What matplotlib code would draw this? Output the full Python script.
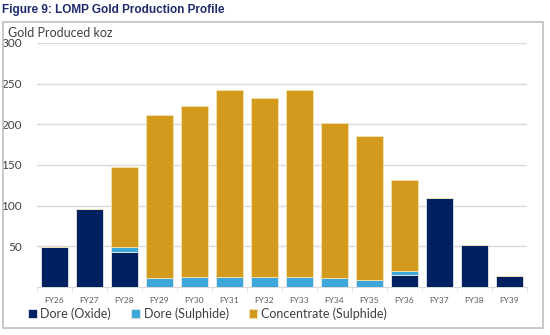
import numpy as np
import matplotlib.pyplot as plt
from matplotlib.patches import Rectangle

years = ["FY26", "FY27", "FY28", "FY29", "FY30", "FY31", "FY32",
         "FY33", "FY34", "FY35", "FY36", "FY37", "FY38", "FY39"]
dore_oxide = [49, 96, 43, 0, 0, 0, 0, 0, 0, 0, 15, 109, 52, 14]
dore_sulphide = [0, 0, 6, 11, 12, 12, 13, 13, 11, 9, 5, 0, 0, 0]
concentrate = [0, 0, 99, 200, 211, 230, 219, 229, 190, 177, 111, 0, 0, 0]
yticks = [50, 100, 150, 200, 250, 300]

navy = "#002060"
blue = "#3DA6DA"
gold = "#D29B1D"

plt.rcParams['font.family'] = ['Lato', 'DejaVu Sans']

fig = plt.figure(figsize=(5.5, 3.35), dpi=100)
ax = fig.add_axes([0.067, 0.143, 0.891, 0.729])

x = np.arange(len(years))
ox = np.array(dore_oxide)
su = np.array(dore_sulphide)
co = np.array(concentrate)
w = 0.77
b1 = ax.bar(x, ox, w, color=navy, edgecolor="#e8e8e8", linewidth=0.6, label="Dore (Oxide)", zorder=3)
b2 = ax.bar(x, su, w, bottom=ox, color=blue, edgecolor="#e8e8e8", linewidth=0.6, label="Dore (Sulphide)", zorder=3)
b3 = ax.bar(x, co, w, bottom=ox + su, color=gold, edgecolor="#f3e3b0", linewidth=0.6, label="Concentrate (Sulphide)", zorder=3)

ax.set_xlim(-0.5, len(years) - 0.5)
ax.set_ylim(0, 300)
ax.set_yticks(yticks)
ax.set_yticklabels([str(v) for v in yticks], fontsize=8.5, color="#404040")
ax.tick_params(axis="y", length=0, pad=11)
ax.yaxis.grid(True, color="#d9d9d9", linewidth=1, zorder=0)

ax.set_xticks(x)
ax.set_xticklabels(years, fontsize=6, color="#595959")
ax.set_xticks(np.arange(-0.5, len(years)), minor=True)
ax.tick_params(axis="x", which="major", length=0, pad=7)
ax.tick_params(axis="x", which="minor", length=3, color="#d9d9d9", labelbottom=False)
for s in ["top", "right", "left"]:
    ax.spines[s].set_visible(False)
ax.spines["bottom"].set_color("#d9d9d9")

fig.text(0.015, 0.89, "Gold Produced koz", fontsize=9, color="#404040")
fig.text(0.004, 0.962, "Figure 9: LOMP Gold Production Profile", fontsize=8.5,
         fontweight="bold", color="#1F2A6B", family=["Liberation Sans", "DejaVu Sans"])

fig.patches.append(Rectangle((0.006, 0.021), 0.982, 0.913, transform=fig.transFigure,
                             fill=False, edgecolor="#bfbfbf", linewidth=1.2))

fig.legend(handles=[b1, b2, b3], loc="center left", bbox_to_anchor=(0.03, 0.063),
           ncol=3, frameon=False, fontsize=9, handlelength=0.7, handleheight=0.7,
           handletextpad=0.3, columnspacing=1.6, labelcolor="#404040")

fig.savefig("out.png", dpi=100)
